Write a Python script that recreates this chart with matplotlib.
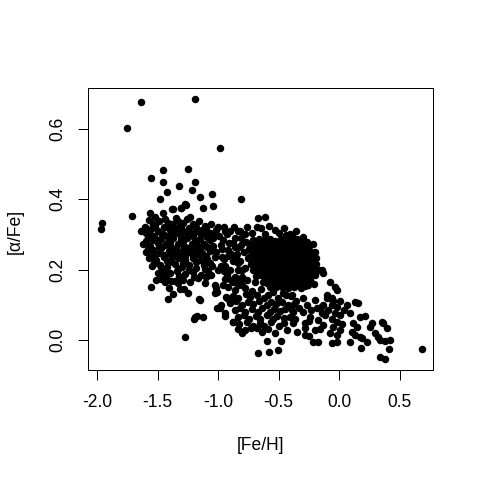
import matplotlib
matplotlib.use("Agg")
import matplotlib.pyplot as plt

plt.rcParams['font.family'] = ['Liberation Sans', 'DejaVu Sans']
plt.rcParams['axes.unicode_minus'] = False

# ---- data: [Fe/H] and [alpha/Fe] values ----
# sparse / outlying stars
fe_sparse = [-1.637, -1.753, -1.19, -0.985, -1.459, -1.249, -1.555, -1.459, -1.326, -1.194,
             -1.423, -1.219, -1.478, -1.153, -1.049, -0.812, -1.268, -1.123, -1.043, -1.376,
             -1.307, -1.712, -1.957, -1.968, -0.674, -0.616, -0.647, -0.531, -0.443, -0.388,
             -0.339, -0.247, -0.215, -0.192, -0.215, -0.145, -0.132, -0.077, -0.036]
al_sparse = [0.678, 0.603, 0.685, 0.546, 0.484, 0.485, 0.46, 0.45, 0.437, 0.448,
             0.421, 0.426, 0.402, 0.407, 0.414, 0.402, 0.385, 0.376, 0.38, 0.373,
             0.375, 0.352, 0.332, 0.315, 0.348, 0.35, 0.318, 0.313, 0.298, 0.299,
             0.272, 0.268, 0.272, 0.234, 0.227, 0.199, 0.19, 0.166, 0.15]

# metal-poor, alpha-rich group
fe_thick = [-1.637, -1.602, -1.56, -1.57, -1.52, -1.54, -1.456, -1.379, -1.305, -1.272,
            -1.415, -1.346, -1.291, -1.235, -1.552, -1.511, -1.442, -1.406, -1.415, -1.373,
            -1.318, -1.283, -1.249, -1.194, -1.2, -1.277, -1.161, -1.497, -1.456, -1.475,
            -1.524, -1.538, -1.354, -1.332,
            -1.49, -1.44, -1.38, -1.33, -1.26, -1.21, -1.16, -1.11, -1.06,
            -1.6, -1.55, -1.50, -1.45, -1.40, -1.35, -1.29, -1.24, -1.19, -1.13, -1.07, -1.02,
            -1.58, -1.53, -1.47, -1.42, -1.37, -1.31, -1.26, -1.21, -1.15, -1.09,
            -1.62, -1.56, -1.5, -1.44, -1.39, -1.33, -1.28, -1.22, -1.17, -1.12, -1.04,
            -1.6, -1.54, -1.48, -1.41, -1.35, -1.3, -1.24, -1.18, -1.13, -1.07,
            -1.57, -1.51, -1.45, -1.39, -1.33, -1.27, -1.21, -1.15, -1.09, -1.03,
            -1.55, -1.48, -1.42, -1.36, -1.3, -1.24, -1.18, -1.12,
            -1.4, -1.34, -1.27, -1.21, -1.14, -1.08,
            -1.47, -1.39, -1.29, -1.23, -1.17, -1.1,
            -1.52, -1.42, -1.31, -1.18, -1.1,
            -1.56, -1.46, -1.33, -1.23, -1.12, -1.04,
            -1.6, -1.5, -1.4, -1.29, -1.19, -1.07,
            -1.58, -1.47, -1.36, -1.26, -1.15, -1.05,
            -1.55, -1.44, -1.32, -1.21, -1.1,
            -1.53, -1.41, -1.29, -1.18, -1.07,
            -1.45, -1.33, -1.24, -1.11,
            -1.43, -1.32, -1.2,
            -1.585, -1.535, -1.485, -1.455, -1.415, -1.375, -1.345, -1.305, -1.275, -1.255,
            -1.235, -1.195, -1.165, -1.145, -1.125, -1.095, -1.385, -1.425, -1.515, -1.565]
al_thick = [0.311, 0.322, 0.36, 0.34, 0.35, 0.33, 0.36, 0.372, 0.374, 0.386,
            0.333, 0.346, 0.332, 0.351, 0.15, 0.171, 0.166, 0.147, 0.117, 0.131,
            0.146, 0.145, 0.133, 0.066, 0.06, 0.009, 0.116, 0.19, 0.19, 0.208,
            0.227, 0.242, 0.169, 0.161,
            0.338, 0.344, 0.33, 0.338, 0.345, 0.33, 0.337, 0.325, 0.33,
            0.305, 0.318, 0.31, 0.322, 0.312, 0.318, 0.31, 0.318, 0.308, 0.314, 0.305, 0.312,
            0.29, 0.295, 0.288, 0.296, 0.29, 0.294, 0.289, 0.296, 0.288, 0.292,
            0.272, 0.268, 0.275, 0.27, 0.265, 0.273, 0.268, 0.274, 0.266, 0.272, 0.268,
            0.25, 0.255, 0.248, 0.252, 0.245, 0.254, 0.249, 0.256, 0.246, 0.252,
            0.232, 0.228, 0.235, 0.226, 0.232, 0.228, 0.234, 0.227, 0.231, 0.235,
            0.21, 0.214, 0.208, 0.215, 0.207, 0.212, 0.205, 0.213,
            0.19, 0.196, 0.188, 0.194, 0.186, 0.195,
            0.174, 0.168, 0.172, 0.165, 0.175, 0.178,
            0.323, 0.32, 0.325, 0.321, 0.319,
            0.302, 0.3, 0.304, 0.301, 0.303, 0.299,
            0.281, 0.283, 0.279, 0.282, 0.28, 0.283,
            0.26, 0.262, 0.258, 0.261, 0.259, 0.262,
            0.24, 0.242, 0.238, 0.241, 0.239,
            0.22, 0.222, 0.218, 0.221, 0.219,
            0.2, 0.202, 0.198, 0.201,
            0.18, 0.182, 0.179,
            0.31, 0.283, 0.265, 0.3, 0.278, 0.305, 0.258, 0.283, 0.24, 0.305,
            0.262, 0.285, 0.245, 0.3, 0.226, 0.265, 0.24, 0.225, 0.245, 0.258]

# stars between the two groups
fe_bridge = [-0.99, -0.97, -0.95, -0.93, -0.91, -0.89, -0.87, -0.98, -0.9, -0.86, -0.95,
             -1.0, -0.96, -0.92, -0.88, -0.84, -0.82, -0.86, -0.82, -0.9, -0.97, -1.0,
             -0.93, -0.86, -0.94, -1.02, -1.05, -1.06, -1.04,
             -0.98, -0.945, -0.915, -0.875, -0.845, -0.81, -0.78, -0.955, -0.895, -0.835, -0.8]
al_bridge = [0.295, 0.26, 0.23, 0.3, 0.275, 0.245, 0.32, 0.21, 0.2, 0.18, 0.32,
             0.32, 0.285, 0.255, 0.225, 0.2, 0.17, 0.265, 0.31, 0.31, 0.235, 0.2,
             0.185, 0.29, 0.21, 0.25, 0.21, 0.185, 0.29,
             0.27, 0.31, 0.24, 0.275, 0.245, 0.27, 0.3, 0.195, 0.17, 0.22, 0.2]

# dense intermediate-metallicity group
fe_core = [-0.71, -0.66, -0.62, -0.57, -0.53, -0.48, -0.44, -0.39, -0.35, -0.31,
           -0.74, -0.69, -0.645, -0.6, -0.555, -0.51, -0.465, -0.42, -0.375, -0.33, -0.285,
           -0.72, -0.675, -0.63, -0.585, -0.54, -0.495, -0.45, -0.405, -0.36, -0.315, -0.27, -0.235,
           -0.75, -0.70, -0.655, -0.61, -0.565, -0.52, -0.475, -0.43, -0.385, -0.34, -0.295, -0.25,
           -0.73, -0.68, -0.635, -0.59, -0.545, -0.5, -0.455, -0.41, -0.365, -0.32, -0.275, -0.23,
           -0.71, -0.665, -0.62, -0.575, -0.53, -0.485, -0.44, -0.395, -0.35, -0.305, -0.26, -0.215,
           -0.69, -0.645, -0.6, -0.555, -0.51, -0.465, -0.42, -0.375, -0.33, -0.285, -0.24,
           -0.63, -0.585, -0.54, -0.495, -0.45, -0.405, -0.36, -0.315, -0.27,
           -0.52, -0.47, -0.42, -0.37, -0.32, -0.28,
           -0.84, -0.81, -0.83, -0.79, -0.82, -0.78, -0.8, -0.76, -0.77, -0.85, -0.76,
           -0.72, -0.68, -0.61, -0.58, -0.5, -0.46, -0.41, -0.36, -0.3, -0.27,
           -0.2, -0.22, -0.19, -0.24, -0.2, -0.17, -0.255, -0.21, -0.28,
           -0.72, -0.675, -0.63, -0.585, -0.54, -0.495, -0.45, -0.405, -0.36, -0.315, -0.29,
           -0.745, -0.7, -0.655, -0.61, -0.565, -0.52, -0.475, -0.43, -0.385, -0.34, -0.3, -0.255,
           -0.73, -0.685, -0.64, -0.595, -0.55, -0.505, -0.46, -0.415, -0.37, -0.325, -0.28, -0.24,
           -0.72, -0.675, -0.63, -0.585, -0.54, -0.495, -0.45, -0.405, -0.36, -0.315, -0.27, -0.225,
           -0.695, -0.65, -0.605, -0.56, -0.515, -0.47, -0.425, -0.38, -0.335, -0.29, -0.245, -0.2,
           -0.67, -0.625, -0.58, -0.535, -0.49, -0.445, -0.4, -0.355, -0.31, -0.265, -0.22,
           -0.61, -0.565, -0.52, -0.475, -0.43, -0.385, -0.34, -0.295, -0.25,
           -0.55, -0.5, -0.45, -0.4, -0.35, -0.3]
al_core = [0.285, 0.288, 0.283, 0.287, 0.282, 0.286, 0.289, 0.284, 0.287, 0.283,
           0.268, 0.27, 0.266, 0.269, 0.267, 0.271, 0.265, 0.268, 0.27, 0.266, 0.269,
           0.251, 0.253, 0.249, 0.252, 0.25, 0.254, 0.248, 0.251, 0.253, 0.25, 0.252, 0.249,
           0.234, 0.236, 0.232, 0.235, 0.233, 0.237, 0.231, 0.234, 0.236, 0.233, 0.235, 0.232,
           0.217, 0.219, 0.215, 0.218, 0.216, 0.22, 0.214, 0.217, 0.219, 0.216, 0.218, 0.215,
           0.2, 0.202, 0.198, 0.201, 0.199, 0.203, 0.197, 0.2, 0.202, 0.199, 0.201, 0.198,
           0.183, 0.185, 0.181, 0.184, 0.182, 0.186, 0.18, 0.183, 0.185, 0.182, 0.184,
           0.166, 0.168, 0.164, 0.167, 0.165, 0.169, 0.163, 0.166, 0.168,
           0.15, 0.152, 0.148, 0.151, 0.149, 0.153,
           0.31, 0.29, 0.265, 0.25, 0.225, 0.205, 0.18, 0.32, 0.28, 0.24, 0.17,
           0.305, 0.32, 0.302, 0.325, 0.305, 0.318, 0.302, 0.31, 0.292, 0.28,
           0.25, 0.205, 0.215, 0.17, 0.185, 0.2, 0.155, 0.16, 0.26,
           0.276, 0.278, 0.274, 0.277, 0.275, 0.279, 0.273, 0.276, 0.278, 0.275, 0.277,
           0.259, 0.261, 0.257, 0.26, 0.258, 0.262, 0.256, 0.259, 0.261, 0.258, 0.26, 0.257,
           0.242, 0.244, 0.24, 0.243, 0.241, 0.245, 0.239, 0.242, 0.244, 0.241, 0.243, 0.24,
           0.225, 0.227, 0.223, 0.226, 0.224, 0.228, 0.222, 0.225, 0.227, 0.224, 0.226, 0.223,
           0.208, 0.21, 0.206, 0.209, 0.207, 0.211, 0.205, 0.208, 0.21, 0.207, 0.209, 0.206,
           0.191, 0.193, 0.189, 0.192, 0.19, 0.194, 0.188, 0.191, 0.193, 0.19, 0.192,
           0.174, 0.176, 0.172, 0.175, 0.173, 0.177, 0.171, 0.174, 0.176,
           0.158, 0.16, 0.156, 0.159, 0.157, 0.161]

# metal-rich, alpha-poor sequence
fe_thin = [-1.016, -1.029, -0.946, -0.933, -0.988, -0.974, -0.946, -0.878, -1.123, -1.178,
           -1.15, -1.012, -0.985, -0.944, -0.93, -0.903, -0.88, -0.682, -1.109, -1.026,
           -1.012, -0.917, -0.806, -0.696, -0.6, -0.545, -0.462, -0.393,
           -0.88, -0.835, -0.77, -0.735, -0.68, -0.625, -0.585, -0.505, -0.44, -0.4,
           -0.9, -0.85, -0.805, -0.75, -0.71, -0.665, -0.6, -0.56, -0.52, -0.47, -0.425, -0.37,
           -0.865, -0.82, -0.775, -0.72, -0.67, -0.635, -0.575, -0.54, -0.49, -0.445, -0.39,
           -0.84, -0.785, -0.745, -0.69, -0.655, -0.6, -0.55, -0.515, -0.46, -0.405,
           -0.825, -0.76, -0.715, -0.655, -0.625, -0.565, -0.5, -0.455, -0.38,
           -0.78, -0.725, -0.64, -0.585,
           -0.86, -0.78, -0.72, -0.65, -0.57, -0.96, -0.88, -0.84, -0.84, -0.8,
           -0.669, -0.581, -0.509, -0.6, -0.481, -0.531, -0.434, -0.352, -0.283, -0.215,
           -0.173, -0.2, -0.132, -0.021, -0.063,
           -0.38, -0.3, -0.366, -0.283, -0.242, -0.173, -0.146, -0.132, -0.187,
           -0.36, -0.33, -0.3, -0.27, -0.25, -0.23, -0.2, -0.15, -0.12, -0.1, -0.28, -0.25, -0.16,
           -0.083, -0.05, -0.064, -0.022, -0.091, -0.036, 0.005, -0.064, -0.017, -0.05, 0.005,
           -0.077, -0.022, -0.104, -0.063, -0.016, 0.02, 0.01,
           0.129, 0.157, 0.088, 0.171, 0.212, 0.116, 0.143, 0.102, 0.129, 0.171, 0.088, 0.226,
           0.179, 0.253, 0.268, 0.295, 0.322, 0.35, 0.363, 0.391, 0.419, 0.377, 0.336,
           0.41, 0.336, 0.377, 0.68, 0.185, 0.06, 0.04]
al_thin = [0.147, 0.133, 0.173, 0.123, 0.09, 0.1, 0.068, 0.052, 0.066, 0.069,
           0.114, 0.09, 0.095, 0.076, 0.119, 0.109, 0.05, 0.033, 0.161, 0.156,
           0.137, 0.152, 0.156, 0.166, 0.161, 0.137, 0.133, 0.128,
           0.125, 0.119, 0.13, 0.121, 0.128, 0.118, 0.127, 0.12, 0.129, 0.124,
           0.105, 0.11, 0.1, 0.108, 0.101, 0.111, 0.099, 0.107, 0.102, 0.109, 0.1, 0.103,
           0.085, 0.09, 0.08, 0.088, 0.081, 0.091, 0.079, 0.087, 0.082, 0.089, 0.086,
           0.065, 0.07, 0.06, 0.068, 0.061, 0.071, 0.059, 0.067, 0.062, 0.064,
           0.045, 0.05, 0.04, 0.048, 0.041, 0.051, 0.039, 0.047, 0.047,
           0.028, 0.033, 0.023, 0.031,
           0.142, 0.148, 0.138, 0.145, 0.15, 0.155, 0.165, 0.155, 0.03, 0.02,
           -0.038, -0.033, -0.028, -0.003, -0.002, 0.021, 0.028, 0.024, 0.014, -0.005,
           -0.005, 0.028, 0.043, -0.005, -0.009,
           0.08, 0.08, 0.061, 0.047, 0.066, 0.057, 0.076, 0.1, 0.09,
           0.11, 0.09, 0.12, 0.1, 0.055, 0.085, 0.115, 0.095, 0.07, 0.12, 0.035, 0.01, 0.03,
           0.118, 0.112, 0.1, 0.095, 0.085, 0.076, 0.071, 0.061, 0.052, 0.038, 0.028,
           0.019, 0.014, 0.128, 0.118, 0.142, 0.045, 0.11,
           0.109, 0.104, 0.076, 0.066, 0.068, 0.047, 0.038, 0.024, 0.014, 0.009, -0.005, -0.005,
           -0.024, 0.038, 0.047, 0.019, 0.009, 0.052, 0.047, 0.033, 0.0, -0.002, 0.0,
           -0.027, -0.049, -0.055, -0.027, 0.005, 0.1, 0.085]

fe = fe_sparse + fe_thick + fe_bridge + fe_core + fe_thin
alpha = al_sparse + al_thick + al_bridge + al_core + al_thin

x_ticks = [-2.0, -1.5, -1.0, -0.5, 0.0, 0.5]
x_tick_labels = ["-2.0", "-1.5", "-1.0", "-0.5", "0.0", "0.5"]
y_ticks = [0.0, 0.2, 0.4, 0.6]
y_tick_labels = ["0.0", "0.2", "0.4", "0.6"]

# ---- figure ----
fig = plt.figure(figsize=(480 / 72, 480 / 72), dpi=72)
ax = fig.add_axes([88 / 480, 110 / 480, 345 / 480, 282 / 480])

ax.plot(fe, alpha, linestyle='none', marker='o', markersize=7.5,
        markerfacecolor='black', markeredgecolor='black', markeredgewidth=0)

ax.set_xlim(-2.075, 0.774)
ax.set_ylim(-0.0853, 0.7165)

ax.set_xticks(x_ticks)
ax.set_xticklabels(x_tick_labels)
ax.set_yticks(y_ticks)
ax.set_yticklabels(y_tick_labels, rotation=90, va='center')

ax.tick_params(axis='both', direction='out', length=9.6, width=1, labelsize=17.5, colors='black')
ax.tick_params(axis='x', pad=14)
ax.tick_params(axis='y', pad=12)
for s in ax.spines.values():
    s.set_linewidth(1)
    s.set_color('black')

fig.text(260.5 / 480, 1 - 446 / 480, "[Fe/H]", ha='center', va='center', fontsize=17.5)
fig.text(15 / 480, 1 - 231 / 480, "[\u03b1/Fe]", ha='center', va='center', rotation=90, fontsize=17.5)

fig.savefig("out.png", dpi=72)
